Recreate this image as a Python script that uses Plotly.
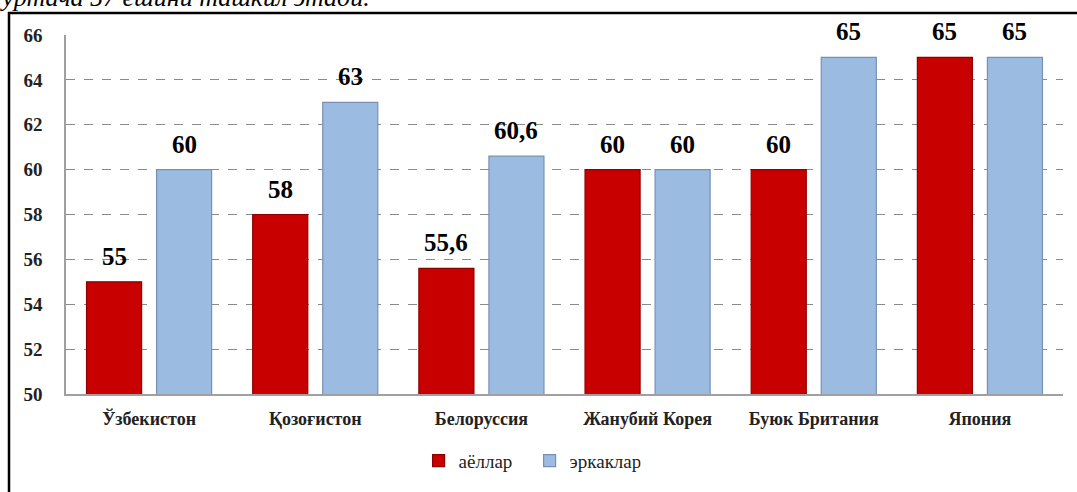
import plotly.graph_objects as go

countries = ["Ўзбекистон", "Қозоғистон", "Белоруссия", "Жанубий Корея", "Буюк Британия", "Япония"]
women = [55, 58, 55.6, 60, 60, 65]
men = [60, 63, 60.6, 60, 65, 65]
women_labels = ["55", "58", "55,6", "60", "60", "65"]
men_labels = ["60", "63", "60,6", "60", "65", "65"]
y_ticks = list(range(50, 67, 2))

SERIF = "Liberation Serif"

fig = go.Figure()
fig.add_trace(go.Bar(
    x=countries, y=women, name="аёллар",
    marker=dict(color="#C80000", line=dict(color="#8E0000", width=1.2)),
))
fig.add_trace(go.Bar(
    x=countries, y=men, name="эркаклар",
    marker=dict(color="#9CBBE1", line=dict(color="#7890B4", width=1.2)),
))

# value labels above each bar (offset to the bar's slot in the group)
for vals, labels, dx in [(women, women_labels, -35), (men, men_labels, 35)]:
    for c, v, t in zip(countries, vals, labels):
        fig.add_annotation(
            x=c, y=v, text=t, showarrow=False, xshift=dx, yshift=10,
            yanchor="bottom", font=dict(family=SERIF, size=25, color="black", weight="bold"),
        )

# sentence from the page above, mostly cut off
fig.add_annotation(
    xref="paper", yref="paper", x=(372 - 66) / 997, y=1 + (35 - 14) / 361,
    xanchor="right", yanchor="bottom", showarrow=False,
    text="<i>пенсия ёши ўртача 57 ёшини ташкил этади.</i>",
    font=dict(family=SERIF, size=26, color="black"),
)

# frame around the chart
fig.add_shape(
    type="rect", xref="paper", yref="paper",
    x0=(9 - 66) / 997, x1=1.1, y0=-0.5, y1=1 + (35 - 13) / 361,
    line=dict(color="black", width=2.5), layer="below",
)

fig.update_layout(
    width=1077, height=492,
    margin=dict(l=66, r=14, t=35, b=96),
    paper_bgcolor="white", plot_bgcolor="white",
    font=dict(family=SERIF, color="#222"),
    barmode="group", bargap=0.157, bargroupgap=0.214,
    showlegend=True,
    legend=dict(
        orientation="h", x=0.465, xanchor="center", y=-0.186, yanchor="middle",
        font=dict(family=SERIF, size=19, color="#222"),
        entrywidth=66, entrywidthmode="pixels", tracegroupgap=0,
    ),
    xaxis=dict(
        automargin=False,
        showline=True, linecolor="#A0A0A0", linewidth=1.5,
        tickfont=dict(family=SERIF, size=18, color="#222", weight="bold"),
        ticks="", ticklabelstandoff=8,
    ),
    yaxis=dict(
        automargin=False,
        range=[50, 66], tickvals=y_ticks,
        showline=True, linecolor="#A0A0A0", linewidth=1.5,
        showgrid=True, gridcolor="#8A8A8A", griddash="dash", gridwidth=1,
        tickfont=dict(family=SERIF, size=19, color="#222", weight="bold"),
        ticks="", ticklabelstandoff=18, zeroline=False,
    ),
)

fig.write_html(
    "out.html",
    config={"displayModeBar": False},
    post_script="document.body.style.margin='0';",
)
